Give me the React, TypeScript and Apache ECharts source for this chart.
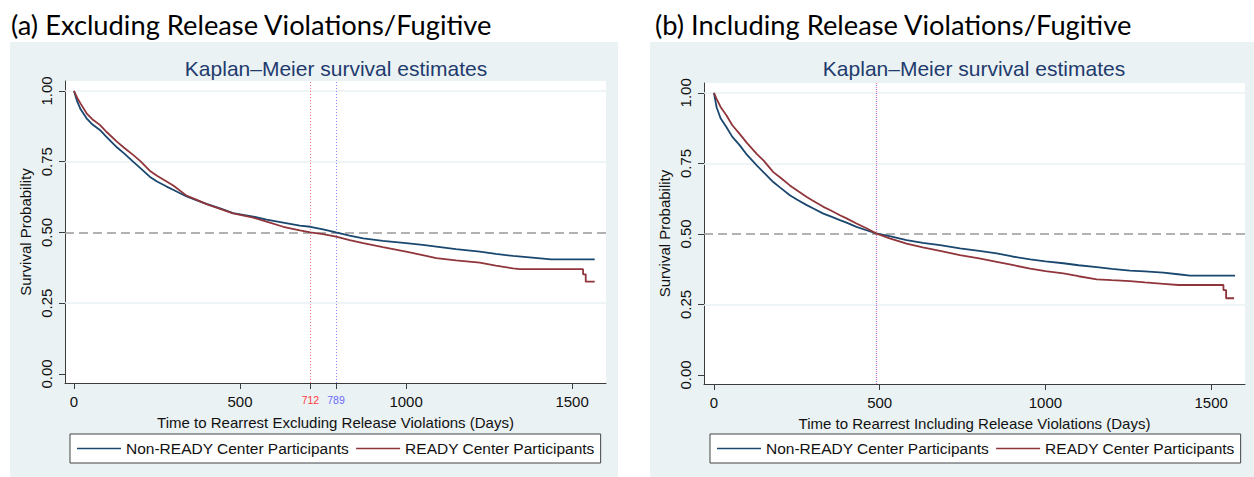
import React, { useEffect, useRef } from "react";
import * as echarts from "echarts";

// ---------- Data ----------
const panelHeaders = [
  "(a) Excluding Release Violations/Fugitive",
  "(b) Including Release Violations/Fugitive",
];
const chartTitle = "Kaplan\u2013Meier survival estimates";
const seriesNames = ["Non-READY Center Participants", "READY Center Participants"];
const xAxisTitles = [
  "Time to Rearrest Excluding Release Violations (Days)",
  "Time to Rearrest Including Release Violations (Days)",
];
const yAxisTitle = "Survival Probability";
const xTicksLeft = [0, 500, 712, 789, 1000, 1500];
const xTicksRight = [0, 500, 1000, 1500];
const yTicks = [0, 0.25, 0.5, 0.75, 1];
const yGridValues = [0.25, 0.75, 1];
const medianLeftRed = 712;
const medianLeftBlue = 789;
const medianRight = 489;

// (a) Excluding, Non-READY
const exclNonReadyDays = [0, 10, 20, 38, 55, 78, 100, 130, 150, 178, 200, 228, 250, 279, 300, 339, 370, 399, 440, 479, 540, 580, 630, 680, 712, 750, 789, 830, 871, 930, 1000, 1050, 1091, 1150, 1222, 1270, 1322, 1380, 1437, 1568];
const exclNonReadySurv = [1.0, 0.962, 0.935, 0.903, 0.882, 0.862, 0.835, 0.8, 0.78, 0.75, 0.727, 0.697, 0.68, 0.662, 0.65, 0.627, 0.613, 0.601, 0.585, 0.568, 0.556, 0.545, 0.535, 0.524, 0.52, 0.511, 0.5, 0.489, 0.479, 0.47, 0.462, 0.456, 0.45, 0.441, 0.432, 0.424, 0.417, 0.411, 0.405, 0.405];
// (a) Excluding, READY
const exclReadyDays = [0, 10, 20, 38, 55, 78, 100, 130, 150, 178, 200, 228, 250, 279, 300, 339, 370, 399, 440, 479, 540, 580, 630, 680, 712, 750, 789, 830, 871, 930, 1000, 1050, 1091, 1150, 1222, 1270, 1322, 1342, 1533, 1533, 1541, 1541, 1568];
const exclReadySurv = [1.0, 0.975, 0.955, 0.921, 0.9, 0.88, 0.853, 0.82, 0.8, 0.774, 0.752, 0.718, 0.7, 0.68, 0.665, 0.63, 0.615, 0.6, 0.583, 0.567, 0.552, 0.538, 0.52, 0.507, 0.5, 0.494, 0.485, 0.473, 0.462, 0.448, 0.432, 0.42, 0.409, 0.401, 0.393, 0.383, 0.373, 0.37, 0.37, 0.352, 0.352, 0.326, 0.326];
// (b) Including, Non-READY
const inclNonReadyDays = [0, 8, 20, 38, 55, 78, 100, 129, 150, 179, 200, 229, 250, 280, 300, 330, 350, 380, 400, 430, 460, 489, 530, 581, 630, 682, 742, 800, 853, 900, 954, 1000, 1054, 1100, 1155, 1200, 1255, 1300, 1356, 1400, 1436, 1572];
const inclNonReadySurv = [1.0, 0.949, 0.91, 0.878, 0.845, 0.814, 0.78, 0.743, 0.718, 0.684, 0.664, 0.637, 0.622, 0.602, 0.59, 0.572, 0.563, 0.549, 0.54, 0.525, 0.513, 0.502, 0.492, 0.478, 0.468, 0.46, 0.449, 0.44, 0.431, 0.42, 0.41, 0.403, 0.396, 0.389, 0.382, 0.376, 0.37, 0.367, 0.363, 0.357, 0.352, 0.352];
// (b) Including, READY
const inclReadyDays = [0, 8, 20, 38, 55, 78, 100, 129, 150, 179, 200, 229, 250, 280, 300, 330, 350, 380, 400, 430, 460, 489, 530, 581, 630, 682, 742, 800, 853, 900, 954, 1000, 1054, 1100, 1155, 1200, 1255, 1300, 1356, 1401, 1537, 1537, 1545, 1545, 1569];
const inclReadySurv = [1.0, 0.979, 0.95, 0.92, 0.886, 0.854, 0.822, 0.784, 0.76, 0.719, 0.7, 0.672, 0.655, 0.631, 0.617, 0.596, 0.585, 0.566, 0.555, 0.537, 0.52, 0.502, 0.484, 0.466, 0.452, 0.44, 0.425, 0.413, 0.401, 0.39, 0.377, 0.368, 0.36, 0.35, 0.339, 0.336, 0.333, 0.328, 0.323, 0.319, 0.319, 0.301, 0.301, 0.272, 0.272];

// ---------- Styles ----------
const FONT = '"Liberation Sans", Arial, sans-serif';
const HEADER_FONT = "Lato, sans-serif";
const BLUE = "#1a476f";
const RED = "#90353b";
const PANEL_BG = "#eaf2f3";
const AXIS = "#3c3c3c";
const TEXT = "#111111";

const zip = (xs: number[], ys: number[]) => xs.map((x, i) => [x, ys[i]]);

function buildOption() {
  const grids = [
    { left: 65, top: 81, width: 541, height: 302 },
    { left: 704, top: 83, width: 541, height: 301 },
  ];
  const xMins = [-27, -30];
  const xMax = 1602;

  const xAxes = [0, 1].map((i) => ({
    type: "value",
    gridIndex: i,
    min: xMins[i],
    max: xMax,
    axisLine: { show: true, onZero: false, lineStyle: { color: AXIS, width: 1 } },
    axisTick: {
      show: true,
      length: 6,
      lineStyle: { color: AXIS, width: 1 },
      customValues: i === 0 ? xTicksLeft : xTicksRight,
    },
    axisLabel: {
      customValues: i === 0 ? xTicksLeft : xTicksRight,
      margin: 11,
      fontSize: 15,
      fontFamily: FONT,
      color: TEXT,
      formatter: (v: number) =>
        v === medianLeftRed ? "{r|" + v + "}" : v === medianLeftBlue ? "{b|" + v + "}" : String(v),
      rich: {
        r: { color: "#ff3c3c", fontSize: 10.5, fontFamily: FONT },
        b: { color: "#6a6aff", fontSize: 10.5, fontFamily: FONT },
      },
    },
    splitLine: { show: false },
    name: xAxisTitles[i],
    nameLocation: "middle",
    nameGap: 32,
    nameTextStyle: { fontSize: 15, fontFamily: FONT, color: TEXT },
  }));

  const yAxes = [0, 1].map((i) => ({
    type: "value",
    gridIndex: i,
    min: -0.032,
    max: 1.035,
    axisLine: { show: true, onZero: false, lineStyle: { color: AXIS, width: 1 } },
    axisTick: { show: true, length: 6, lineStyle: { color: AXIS, width: 1 }, customValues: yTicks },
    axisLabel: {
      customValues: yTicks,
      rotate: 90,
      margin: 11,
      fontSize: 15,
      fontFamily: FONT,
      color: TEXT,
      formatter: (v: number) => v.toFixed(2),
    },
    splitLine: { show: false },
    name: yAxisTitle,
    nameLocation: "middle",
    nameGap: 32,
    nameTextStyle: { fontSize: 15, fontFamily: FONT, color: TEXT },
  }));

  const gridLines = (i: number) => {
    const data: any[] = yGridValues.map((v) => ({
      yAxis: v,
      lineStyle: { color: PANEL_BG, width: 1.5, type: "solid" },
    }));
    return {
      type: "line",
      xAxisIndex: i,
      yAxisIndex: i,
      data: [],
      z: 1,
      silent: true,
      markLine: { z: 1, symbol: ["none", "none"], silent: true, label: { show: false }, data },
    };
  };

  const refLines = (i: number) => {
    const data: any[] = [
      { yAxis: 0.5, lineStyle: { color: "#999999", width: 1.6, type: [9, 5] } },
    ];
    if (i === 0) {
      data.push({ xAxis: medianLeftRed, lineStyle: { color: "#ff7a7a", width: 1, type: [1, 2] } });
      data.push({ xAxis: medianLeftBlue, lineStyle: { color: "#8a8aff", width: 1, type: [1, 2] } });
    } else {
      data.push({ xAxis: medianRight, lineStyle: { color: "#ff7aa8", width: 1.2, type: [1, 3] } });
      data.push({ xAxis: medianRight, lineStyle: { color: "#8a7aff", width: 1.2, type: [1, 3], dashOffset: 2 } });
    }
    return {
      type: "line",
      xAxisIndex: i,
      yAxisIndex: i,
      data: [],
      z: 4,
      silent: true,
      markLine: { z: 2, symbol: ["none", "none"], silent: true, label: { show: false }, data },
    };
  };

  const curve = (i: number, name: string, color: string, data: number[][]) => ({
    type: "line",
    name,
    xAxisIndex: i,
    yAxisIndex: i,
    data,
    symbol: "none",
    showSymbol: false,
    z: 3,
    lineStyle: { color, width: 1.8 },
    itemStyle: { color },
  });

  const legendBase = {
    orient: "horizontal",
    top: 434,
    backgroundColor: "#ffffff",
    borderColor: "#444444",
    borderWidth: 1,
    borderRadius: 0,
    padding: [6, 6, 6, 7],
    itemGap: 7,
    itemWidth: 44,
    itemHeight: 1.6,
    icon: "rect",
    selectedMode: false,
    textStyle: { fontSize: 15.5, fontFamily: FONT, color: TEXT, lineHeight: 17 },
    data: seriesNames,
  };

  return {
    animation: false,
    backgroundColor: "#ffffff",
    grid: grids.map((g) => ({ ...g, show: true, backgroundColor: "#ffffff", borderWidth: 0 })),
    xAxis: xAxes,
    yAxis: yAxes,
    legend: [
      { ...legendBase, left: 70 },
      { ...legendBase, left: 710 },
    ],
    graphic: [
      { type: "rect", z: -10, shape: { x: 10, y: 42, width: 608, height: 435 }, style: { fill: PANEL_BG } },
      { type: "rect", z: -10, shape: { x: 650, y: 42, width: 604, height: 435 }, style: { fill: PANEL_BG } },
      {
        type: "text",
        x: 11,
        y: 24,
        style: { text: panelHeaders[0], fontSize: 27.3, fontFamily: HEADER_FONT, fill: "#000", textVerticalAlign: "middle" },
      },
      {
        type: "text",
        x: 655,
        y: 24,
        style: { text: panelHeaders[1], fontSize: 27.3, fontFamily: HEADER_FONT, fill: "#000", textVerticalAlign: "middle" },
      },
      {
        type: "text",
        x: 336,
        y: 68.7,
        style: { text: chartTitle, fontSize: 21, fontFamily: FONT, fill: "#1f3b6e", textAlign: "center", textVerticalAlign: "middle" },
      },
      {
        type: "text",
        x: 974,
        y: 68.7,
        style: { text: chartTitle, fontSize: 21, fontFamily: FONT, fill: "#1f3b6e", textAlign: "center", textVerticalAlign: "middle" },
      },
    ],
    series: [
      gridLines(0),
      gridLines(1),
      curve(0, seriesNames[0], BLUE, zip(exclNonReadyDays, exclNonReadySurv)),
      curve(0, seriesNames[1], RED, zip(exclReadyDays, exclReadySurv)),
      curve(1, seriesNames[0], BLUE, zip(inclNonReadyDays, inclNonReadySurv)),
      curve(1, seriesNames[1], RED, zip(inclReadyDays, inclReadySurv)),
      refLines(0),
      refLines(1),
    ],
  };
}

export default function App() {
  const ref = useRef<HTMLDivElement>(null);
  useEffect(() => {
    if (!ref.current) return;
    const chart = echarts.init(ref.current, undefined, { renderer: "svg" });
    chart.setOption(buildOption() as any);
    return () => chart.dispose();
  }, []);
  return (
    <div
      ref={ref}
      style={{ position: "fixed", left: 0, top: 0, width: 1254, height: 477, background: "#fff" }}
    />
  );
}
